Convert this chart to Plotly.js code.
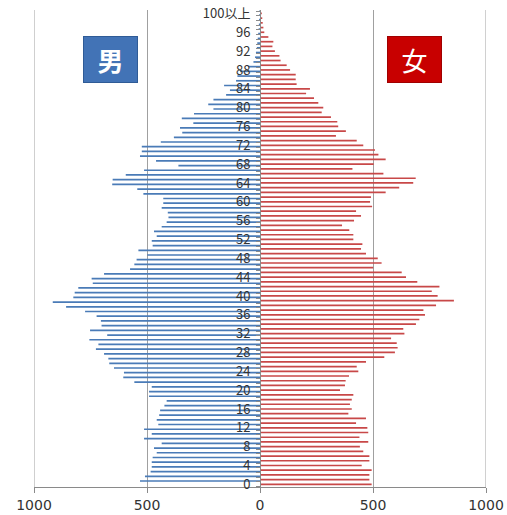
<!DOCTYPE html>
<html><head><meta charset="utf-8">
<script src="https://cdn.plot.ly/plotly-3.0.1.min.js"></script>
<style>html,body{margin:0;padding:0;background:#fff}#chart{width:507px;height:515px}</style>
</head><body><div id="chart"></div>
<script>
// ages 0..100 (100 = 100以上)
const ages = Array.from({length: 101}, (_, i) => i);

const male = [
  531, 509, 484, 479, 479, 475, 457, 469, 435, 513,
  479, 513, 450, 457, 446, 442, 423, 413, 491, 491,
  479, 556, 605, 602, 646, 667, 671, 690, 726, 715,
  755, 676, 752, 701, 704, 723, 774, 858, 917, 826,
  820, 804, 740, 745, 690, 575, 556, 546, 499, 538,
  475, 479, 457, 469, 435, 413, 405, 408, 435, 428,
  428, 516, 543, 654, 652, 594, 513, 361, 460, 531,
  523, 523, 439, 381, 344, 354, 295, 346, 292, 206,
  229, 206, 150, 133, 159, 106, 100, 88, 52, 29,
  22, 18, 14, 12, 10, 8, 6, 5, 4, 3, 2
];

const female = [
  494, 484, 484, 494, 450, 484, 484, 457, 442, 479,
  440, 479, 475, 425, 469, 391, 406, 398, 406, 413,
  354, 376, 379, 394, 435, 428, 469, 550, 597, 609,
  605, 580, 639, 634, 690, 705, 730, 723, 779, 858,
  786, 760, 794, 696, 646, 627, 501, 538, 521, 469,
  447, 453, 413, 413, 395, 363, 416, 447, 425, 496,
  487, 491, 556, 616, 678, 689, 546, 409, 503, 556,
  524, 509, 457, 428, 336, 380, 346, 342, 314, 273,
  280, 258, 239, 204, 221, 162, 158, 158, 133, 118,
  91, 86, 66, 55, 59, 37, 19, 15, 12, 10, 8
];

const yTickVals = [0,4,8,12,16,20,24,28,32,36,40,44,48,52,56,60,64,68,72,76,80,84,88,92,96,100];
const yTickText = ['0','4','8','12','16','20','24','28','32','36','40','44','48','52','56','60','64','68','72','76','80','84','88','92','96','100以上'];
const xTickVals = [-1000,-500,0,500,1000];
const xTickText = ['1000','500','0','500','1000'];

const traces = [
  {
    type: 'bar', orientation: 'h', name: '女',
    y: ages, x: female,
    width: 0.36, offset: -0.18,
    marker: {color: '#C84848', line: {width: 0}},
    hoverinfo: 'skip'
  },
  {
    type: 'bar', orientation: 'h', name: '男',
    y: ages, x: male.map(v => -v),
    width: 0.36, offset: 0.52,
    marker: {color: '#4A7BB7', line: {width: 0}},
    hoverinfo: 'skip'
  }
];

const layout = {
  width: 507, height: 515,
  margin: {l: 34, r: 21, t: 10, b: 28, pad: 0},
  paper_bgcolor: '#ffffff', plot_bgcolor: '#ffffff',
  showlegend: false,
  barmode: 'overlay',
  xaxis: {
    range: [-1000, 1000],
    tickmode: 'array', tickvals: xTickVals, ticktext: xTickText,
    showgrid: true, gridcolor: '#a0a0a0', gridwidth: 1,
    zeroline: false,
    showline: true, linecolor: '#8a8a8a', linewidth: 1,
    ticks: 'outside', ticklen: 5, tickcolor: '#8a8a8a',
    tickfont: {family: 'DejaVu Sans', size: 14, color: '#333'},
    fixedrange: true
  },
  yaxis: {
    range: [-0.57, 100.73],
    anchor: 'free', position: 0.5,
    showline: true, linecolor: '#8a8a8a', linewidth: 1,
    showgrid: false, zeroline: false,
    tickmode: 'array', tickvals: yTickVals, ticktext: yTickText,
    ticks: 'outside', ticklen: 4, tickcolor: 'rgba(0,0,0,0)',
    minor: {tick0: 0.5, dtick: 1, ticks: 'outside', ticklen: 4, tickcolor: '#8a8a8a', showgrid: false},
    tickfont: {family: 'Noto Sans CJK JP', size: 13, color: '#333'},
    ticklabelstandoff: 3,
    fixedrange: true
  },
  shapes: [
    {type: 'line', xref: 'x', yref: 'paper', x0: -1000, x1: -1000, y0: 0, y1: 1, line: {color: '#a0a0a0', width: 1}},
    {type: 'line', xref: 'x', yref: 'paper', x0: 1000, x1: 1000, y0: 0, y1: 1, line: {color: '#a0a0a0', width: 1}}
  ],
  annotations: [
    {xref: 'paper', yref: 'paper', x: 0.17, y: 0.897, xanchor: 'center', yanchor: 'middle',
     text: '男', showarrow: false, width: 53, height: 45, bgcolor: '#4273B6', bordercolor: '#2F5B96', borderwidth: 1, borderpad: 0,
     font: {family: 'Noto Sans CJK JP', size: 26, color: '#ffffff', weight: 'bold'}},
    {xref: 'paper', yref: 'paper', x: 0.842, y: 0.897, xanchor: 'center', yanchor: 'middle',
     text: '女', showarrow: false, width: 53, height: 45, bgcolor: '#C80000', bordercolor: '#A00000', borderwidth: 1, borderpad: 0,
     font: {family: 'Noto Sans CJK JP', size: 26, color: '#ffffff'}}
  ]
};

Plotly.newPlot('chart', traces, layout, {displayModeBar: false, staticPlot: true});
</script>
</body></html>
